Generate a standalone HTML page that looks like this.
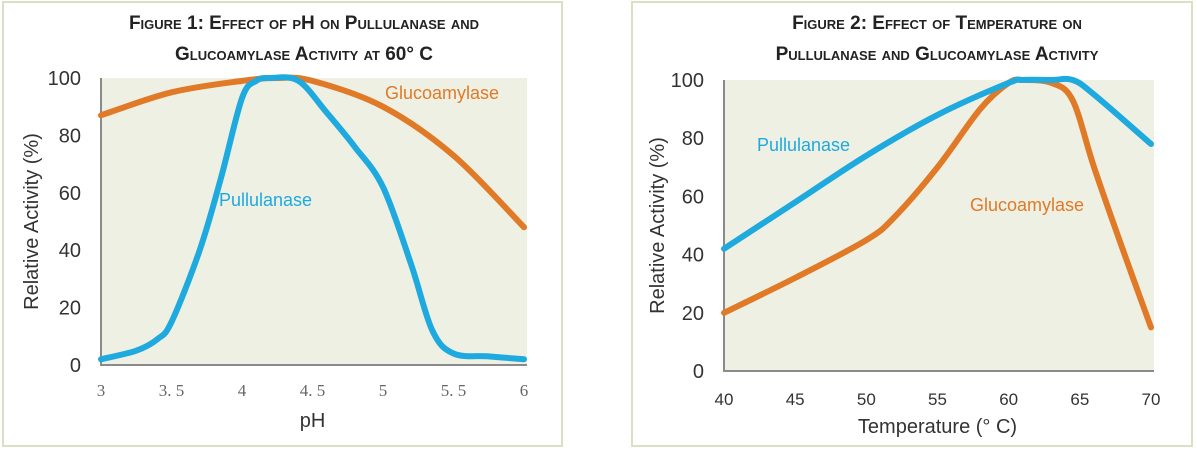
<!DOCTYPE html>
<html><head><meta charset="utf-8"><style>
html,body{margin:0;padding:0;background:#fff;width:1197px;height:451px;overflow:hidden}
</style></head><body>
<svg width="1197" height="451" font-family="Liberation Sans, sans-serif">
<rect x="3" y="2" width="559" height="444" fill="#fff" stroke="#dadfc6" stroke-width="2"/>
<rect x="632" y="2" width="560" height="444" fill="#fff" stroke="#dadfc6" stroke-width="2"/>
<g id="c1"></g>
<g id="c2"></g>
</svg>
<script>
const ph = [3,3.25,3.4,3.5,3.7,3.85,4,4.1,4.2,4.4,4.6,4.8,5,5.2,5.35,5.5,5.75,6];
const phPull = [2,5,9,15,40,65,93,99,100,99,88,76,62,35,12,4,3,2];
const phG = [3,3.5,4,4.25,4.5,5,5.5,6];
const phGluco = [87,95,99,100,99,90,73,48];
const phTicks = ["3","3.5","4","4.5","5","5.5","6"];
const tPullX = [40,45,50,55,60,61,63,64.5,66,70];
const tPull = [42,58,74,88,99,100,100,100,95,78];
const tGlucoX = [40,45,50,52,55,58,60,61,63,64.5,66,68,70];
const tGluco = [20,32,45,53,70,90,99,100,99,93,70,42,15];
const tTicks = ["40","45","50","55","60","65","70"];
const yTicks = [0,20,40,60,80,100];
const NS="http://www.w3.org/2000/svg";
function mk(p,tag,a,t){const e=document.createElementNS(NS,tag);for(const k in a)e.setAttribute(k,a[k]);if(t!==undefined)e.textContent=t;p.appendChild(e);return e;}
function smooth(pts){let d=`M${pts[0][0]},${pts[0][1]}`;for(let i=0;i<pts.length-1;i++){const p0=pts[Math.max(0,i-1)],p1=pts[i],p2=pts[i+1],p3=pts[Math.min(pts.length-1,i+2)];const c1=[p1[0]+(p2[0]-p0[0])/6,p1[1]+(p2[1]-p0[1])/6],c2=[p2[0]-(p3[0]-p1[0])/6,p2[1]-(p3[1]-p1[1])/6];d+=` C${c1[0]},${c1[1]} ${c2[0]},${c2[1]} ${p2[0]},${p2[1]}`;}return d;}
function chart(g,o){
 const X=v=>o.x0+(v-o.xmin)/(o.xmax-o.xmin)*(o.x1-o.x0);
 const Y=v=>o.y0-v/100*(o.y0-o.y1);
 let r=mk(g,'rect',{x:o.x0,y:o.y1,width:o.x1-o.x0+3,height:o.y0-o.y1,fill:'#eef0e3'});
 
 
 let ax=mk(g,'line',{x1:o.x0,y1:o.y1,x2:o.x0,y2:o.y0+1,stroke:'#8a8a8a','stroke-width':2});
 
 
 ax=mk(g,'line',{x1:o.x0,y1:o.y0,x2:o.x1+3,y2:o.y0,stroke:'#8a8a8a','stroke-width':2});
 
 
 o.title.forEach((t,i)=>{const e=mk(g,'text',{x:o.tx,y:o.ty+i*31,'text-anchor':'middle','font-size':19,'font-weight':'bold','font-variant':'small-caps',fill:'#222'},t);
  
  });
 yTicks.forEach(v=>{const e=mk(g,'text',{x:o.x0-20,y:Y(v)+7,'text-anchor':'end','font-size':20,fill:'#333'},String(v));
  
  });
 o.ticks.forEach(t=>{const e=mk(g,'text',{x:X(parseFloat(t)),y:o.y0+o.tickDy,'text-anchor':'middle','font-size':o.tickFs,fill:o.tickFill,'font-family':o.tickFont},o.serif?t.replace('.','. '):t);
  
  });
 let e=mk(g,'text',{x:o.ytx,y:(o.y0+o.y1)/2,'text-anchor':'middle','font-size':20,fill:'#333',transform:`rotate(-90 ${o.ytx} ${(o.y0+o.y1)/2})`},'Relative Activity (%)');
 
 
 e=mk(g,'text',{x:(o.x0+o.x1)/2,y:o.xty,'text-anchor':'middle','font-size':20,fill:'#333'},o.xtitle);
 
 
 o.series.forEach(s=>{const pts=s.x.map((v,i)=>[X(v),Y(s.y[i])]);
  const p=mk(g,'path',{d:smooth(pts),fill:'none',stroke:s.c,'stroke-width':6,'stroke-linecap':'round','stroke-linejoin':'round'});
  
  
  const l=mk(g,'text',{x:s.lx,y:s.ly,'font-size':18,fill:s.c},s.label);
  
  });
}
chart(document.getElementById('c1'),{x0:101,x1:524,y0:365,y1:78,xmin:3,xmax:6,ticks:phTicks,tickDy:31,tickFs:17,tickFill:'#666',tickFont:'Liberation Serif, serif',serif:true,
 title:['Figure 1: Effect of pH on Pullulanase and','Glucoamylase Activity at 60° C'],tx:304,ty:29,ytx:38,xty:427,xtitle:'pH',
 series:[{name:'glucoamylase',x:phG,y:phGluco,c:'#e07a27',lx:385,ly:99,label:'Glucoamylase'},{name:'pullulanase',x:ph,y:phPull,c:'#1eaade',lx:219,ly:206,label:'Pullulanase'}]});
chart(document.getElementById('c2'),{x0:724,x1:1151,y0:371,y1:80,xmin:40,xmax:70,ticks:tTicks,tickDy:34,tickFs:17,tickFill:'#333',tickFont:'Liberation Sans, sans-serif',serif:false,
 title:['Figure 2: Effect of Temperature on','Pullulanase and Glucoamylase Activity'],tx:937,ty:29,ytx:664,xty:433,xtitle:'Temperature (° C)',
 series:[{name:'glucoamylase',x:tGlucoX,y:tGluco,c:'#e07a27',lx:970,ly:211,label:'Glucoamylase'},{name:'pullulanase',x:tPullX,y:tPull,c:'#1eaade',lx:757,ly:151,label:'Pullulanase'}]});
</script>
</body></html>
